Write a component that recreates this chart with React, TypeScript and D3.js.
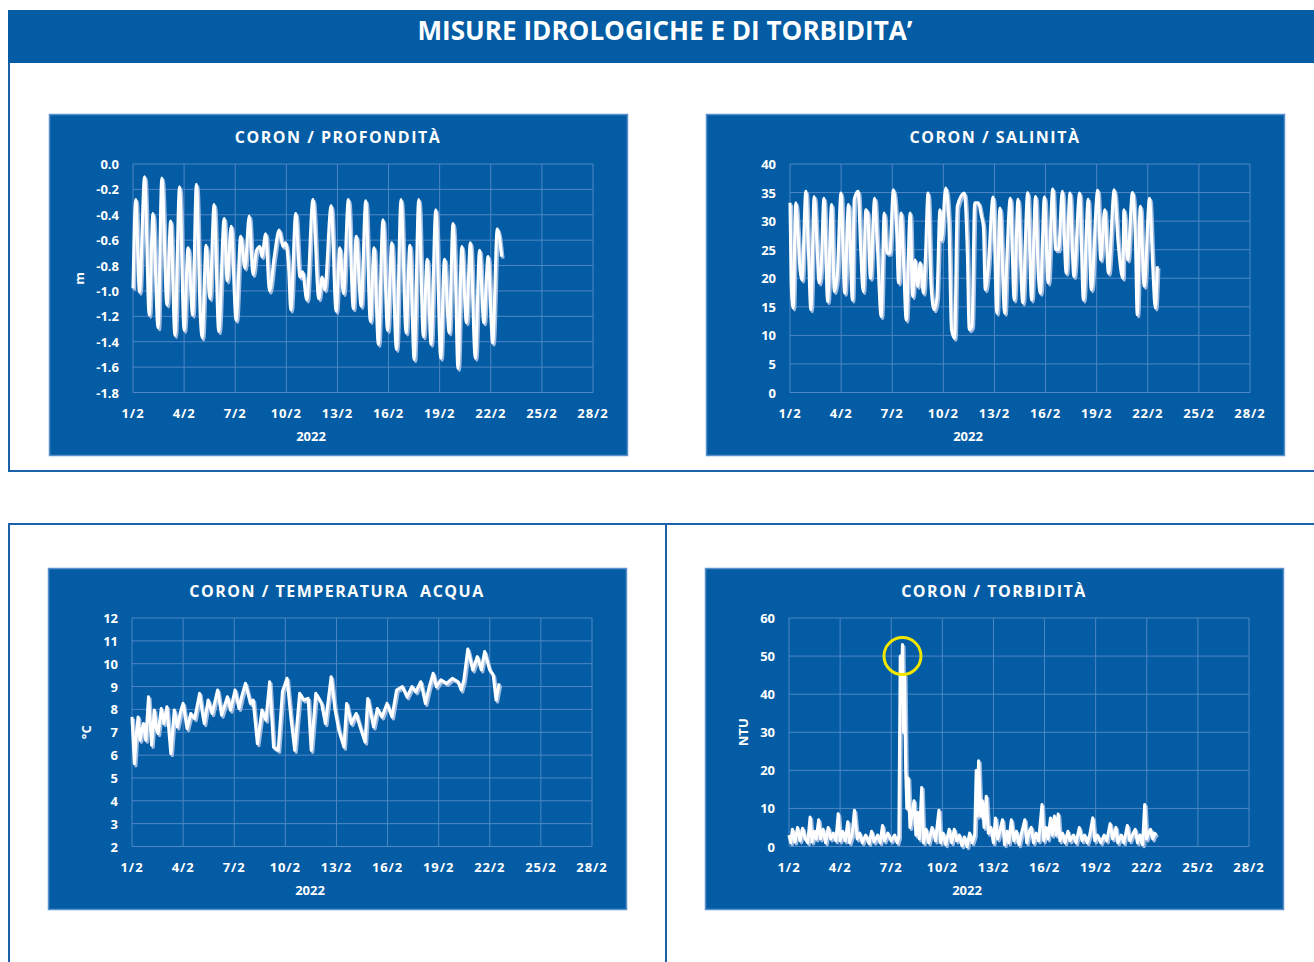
import { useEffect, useRef } from "react";
import * as d3 from "d3";

// giorni dal 1/2/2022
const xTickDays = [0, 3, 6, 9, 12, 15, 18, 21, 24, 27];
const xTickLabels = ["1/2", "4/2", "7/2", "10/2", "13/2", "16/2", "19/2", "22/2", "25/2", "28/2"];

const depthTicks = [0, -0.2, -0.4, -0.6, -0.8, -1.0, -1.2, -1.4, -1.6, -1.8];
const salinityTicks = [0, 5, 10, 15, 20, 25, 30, 35, 40];
const temperatureTicks = [2, 3, 4, 5, 6, 7, 8, 9, 10, 11, 12];
const turbidityTicks = [0, 10, 20, 30, 40, 50, 60];

// [giorno, valore]
const depth: [number, number][] = [
  [0, -0.98], [0.16, -0.28], [0.38, -1.01], [0.68, -0.1], [0.95, -1.19], [1.17, -0.39],
  [1.47, -1.29], [1.69, -0.11], [1.99, -1.11], [2.21, -0.45], [2.46, -1.35], [2.73, -0.18],
  [3.0, -1.31], [3.23, -0.66], [3.5, -1.19], [3.72, -0.16], [3.95, -1.2], [4.06, -1.37],
  [4.29, -0.64], [4.51, -1.06], [4.76, -0.32], [5.03, -1.32], [5.35, -0.43], [5.53, -0.92],
  [5.76, -0.49], [6.05, -1.23], [6.32, -0.57], [6.57, -0.82], [6.82, -0.41], [7.04, -0.87],
  [7.25, -0.68], [7.45, -0.65], [7.56, -0.73], [7.79, -0.55], [8.01, -1.0], [8.3, -0.72],
  [8.58, -0.52], [8.8, -0.65], [8.95, -0.62], [9.14, -0.83], [9.26, -1.15], [9.55, -0.39],
  [9.8, -0.89], [9.95, -0.85], [10.2, -1.07], [10.56, -0.28], [10.9, -1.06], [11.1, -0.89],
  [11.25, -0.99], [11.63, -0.33], [11.92, -1.16], [12.14, -0.66], [12.35, -1.02], [12.64, -0.28],
  [12.93, -1.14], [13.1, -0.57], [13.39, -1.12], [13.66, -0.29], [13.93, -1.24], [14.15, -0.66],
  [14.4, -1.42], [14.67, -0.44], [14.94, -1.31], [15.19, -0.62], [15.46, -1.46], [15.73, -0.28],
  [16.03, -1.33], [16.25, -0.64], [16.5, -1.54], [16.77, -0.28], [17.04, -1.36], [17.27, -0.75],
  [17.49, -1.42], [17.77, -0.36], [18.06, -1.53], [18.28, -0.75], [18.56, -1.33], [18.78, -0.47],
  [18.92, -0.87], [19.07, -1.61], [19.3, -0.65], [19.57, -1.25], [19.8, -0.62], [20.09, -1.53],
  [20.34, -0.68], [20.59, -1.25], [20.84, -0.73], [21.11, -1.41], [21.38, -0.51], [21.63, -0.73],
];

const salinity: [number, number][] = [
  [0, 33.2], [0.07, 19.2], [0.18, 14.8], [0.34, 33.2], [0.47, 27.9], [0.59, 21.5], [0.7, 19.7],
  [0.93, 35.2], [1.08, 25], [1.22, 14.5], [1.42, 34.3], [1.58, 26.2], [1.7, 19.2], [1.83, 22.1],
  [1.99, 34], [2.21, 15.9], [2.44, 32.9], [2.6, 17.7], [2.78, 20.9], [2.99, 34.9], [3.21, 17.4],
  [3.43, 32.9], [3.66, 16.2], [3.77, 33.8], [4.0, 35.2], [4.15, 25], [4.29, 17.7], [4.45, 32],
  [4.56, 31.4], [4.72, 20], [4.97, 34], [5.12, 26.2], [5.35, 13.3], [5.53, 31.4], [5.69, 24.4],
  [5.85, 24.4], [6.07, 35.5], [6.25, 29.1], [6.37, 19.2], [6.52, 31.4], [6.66, 23.2], [6.82, 12.7],
  [7.05, 31.4], [7.2, 16.8], [7.34, 23.2], [7.49, 18.6], [7.65, 22.7], [7.83, 17.4], [7.95, 23.8],
  [8.1, 34.9], [8.28, 18.6], [8.46, 14.5], [8.62, 16.5], [8.8, 32], [8.89, 26.7], [9.14, 35.8],
  [9.32, 30.2], [9.48, 11], [9.66, 9.5], [9.82, 32.6], [10.23, 34.9], [10.41, 24.4], [10.52, 11],
  [10.68, 11.6], [10.84, 33.2], [11.06, 33.2], [11.24, 30.8], [11.35, 29.1], [11.46, 18],
  [11.62, 21.5], [11.92, 34.2], [12.14, 13.9], [12.32, 32.3], [12.6, 13.9], [12.71, 22.1],
  [12.93, 34], [13.16, 16.2], [13.38, 33.8], [13.66, 15.7], [13.95, 35], [14.18, 16.2],
  [14.41, 34.3], [14.58, 20.3], [14.7, 17.4], [14.93, 34.2], [15.15, 19.2], [15.42, 35.6],
  [15.6, 25], [15.76, 25], [15.98, 35.2], [16.21, 20.9], [16.43, 34.9], [16.66, 20.3], [17.0, 34.9],
  [17.22, 16.2], [17.5, 33.8], [17.68, 18], [18.06, 35.4], [18.24, 23.2], [18.47, 32], [18.69, 20.9],
  [19.03, 35.5], [19.26, 26.2], [19.53, 20], [19.6, 32], [19.82, 23.2], [20.1, 35], [20.28, 26.2],
  [20.38, 13.6], [20.56, 32.6], [20.79, 18.6], [21.1, 34], [21.29, 22.1], [21.44, 14.8], [21.56, 22.1],
];

const temperature: [number, number][] = [
  [0, 7.67], [0.14, 5.62], [0.25, 6.9], [0.36, 7.67], [0.47, 6.65], [0.58, 7.1], [0.68, 7.38],
  [0.81, 6.65], [0.97, 8.55], [1.15, 6.43], [1.31, 7.97], [1.42, 7.2], [1.53, 6.94], [1.72, 8.04],
  [1.87, 7.38], [2.05, 8.11], [2.28, 6.06], [2.48, 7.97], [2.66, 7.23], [2.85, 7.9], [3.0, 8.26],
  [3.23, 7.16], [3.45, 7.82], [3.68, 7.6], [3.97, 8.7], [4.1, 8.0], [4.24, 7.38], [4.47, 8.41],
  [4.7, 7.82], [5.03, 8.85], [5.26, 7.75], [5.6, 8.55], [5.78, 7.97], [6.05, 8.85], [6.28, 8.04],
  [6.45, 8.6], [6.66, 9.14], [6.95, 8.26], [7.11, 8.41], [7.36, 6.5], [7.63, 7.97], [7.86, 7.53],
  [8.08, 9.21], [8.31, 6.35], [8.58, 6.21], [8.83, 8.77], [9.1, 9.36], [9.32, 7.67], [9.55, 6.21],
  [9.84, 8.7], [10.07, 8.41], [10.34, 8.48], [10.52, 6.21], [10.79, 8.7], [11.13, 8.26],
  [11.35, 7.38], [11.69, 9.43], [11.92, 7.97], [12.14, 7.09], [12.44, 6.35], [12.6, 8.26],
  [12.87, 7.38], [13.16, 7.82], [13.39, 7.23], [13.68, 6.57], [13.84, 8.48], [14.18, 7.23],
  [14.4, 8.04], [14.67, 7.67], [14.97, 8.26], [15.26, 7.67], [15.53, 8.85], [15.87, 9.0],
  [16.14, 8.55], [16.43, 9.0], [16.66, 8.77], [16.95, 9.21], [17.22, 8.26], [17.45, 9.0],
  [17.68, 9.58], [17.86, 9.0], [18.13, 9.29], [18.47, 9.14], [18.8, 9.36], [19.14, 9.21],
  [19.32, 8.85], [19.48, 9.29], [19.71, 10.64], [20.0, 9.73], [20.27, 10.31], [20.5, 9.73],
  [20.7, 10.53], [20.99, 9.73], [21.2, 9.51], [21.37, 8.41], [21.55, 9.14],
];

const turbidity: [number, number][] = [
  [0, 3], [0.1, 1], [0.2, 4.5], [0.35, 1.2], [0.5, 5], [0.65, 1.5], [0.8, 4.8], [0.95, 2], [1.1, 1],
  [1.24, 7.7], [1.35, 1.2], [1.5, 4], [1.6, 2], [1.74, 7], [1.85, 2], [2.0, 4.5], [2.15, 1], [2.3, 5],
  [2.45, 2], [2.6, 3.5], [2.75, 1.5], [2.89, 8.6], [3.0, 1.5], [3.15, 4], [3.3, 1.5], [3.45, 6.5],
  [3.55, 1], [3.7, 3], [3.84, 9.5], [4.0, 2], [4.15, 3.5], [4.3, 1], [4.5, 3], [4.7, 0.8], [4.85, 4],
  [5.0, 1.2], [5.2, 3], [5.35, 1], [5.49, 5.5], [5.6, 1.5], [5.8, 3.5], [6.0, 1.5], [6.2, 3], [6.35, 1],
  [6.45, 2.5], [6.53, 50], [6.58, 38], [6.66, 53], [6.72, 30], [6.78, 45], [6.85, 20], [6.92, 10],
  [7.0, 18], [7.1, 5], [7.2, 8], [7.34, 12], [7.45, 3], [7.55, 9], [7.65, 2], [7.79, 15.5], [7.9, 1],
  [8.05, 4.5], [8.2, 1], [8.4, 5], [8.6, 1.5], [8.8, 9.5], [8.9, 1], [9.05, 3.5], [9.2, 0.5], [9.4, 4.5],
  [9.55, 1], [9.7, 4.5], [9.85, 1.5], [10.0, 3], [10.15, 0.2], [10.3, 2.5], [10.45, 0], [10.6, 3.5],
  [10.75, 1], [10.9, 3], [10.99, 20], [11.05, 8], [11.13, 22.5], [11.25, 8], [11.35, 12], [11.45, 5],
  [11.58, 13.2], [11.7, 3.5], [11.85, 5], [12.0, 1], [12.12, 7.5], [12.25, 2], [12.4, 4.5], [12.53, 7],
  [12.65, 0.5], [12.8, 4], [12.9, 1], [13.05, 7], [13.2, 1.5], [13.35, 4], [13.5, 0.5], [13.65, 3.5],
  [13.84, 7], [13.95, 1], [14.1, 4], [14.22, 5], [14.35, 1], [14.5, 3.5], [14.65, 1.5], [14.85, 11],
  [14.95, 1.5], [15.1, 5], [15.2, 2], [15.35, 7.5], [15.45, 3], [15.58, 8], [15.68, 3], [15.8, 8.5],
  [15.9, 1.5], [16.05, 3.5], [16.2, 1], [16.37, 4], [16.5, 1.5], [16.7, 3], [16.85, 1], [17.04, 5],
  [17.2, 1.5], [17.35, 3], [17.5, 1], [17.65, 3], [17.83, 7.5], [17.95, 1.5], [18.1, 3], [18.3, 1],
  [18.5, 3], [18.65, 1.5], [18.85, 6], [19.0, 2], [19.19, 5], [19.3, 1], [19.5, 3], [19.65, 1],
  [19.86, 5.5], [20.0, 1.5], [20.15, 3], [20.32, 4.5], [20.45, 1], [20.6, 3], [20.75, 0.5], [20.88, 11],
  [20.98, 2], [21.1, 3.5], [21.22, 4.5], [21.35, 2], [21.45, 3.5], [21.56, 3],
];

// picco evidenziato nel grafico della torbidità
const turbidityPeak: [number, number] = [6.66, 50];

const BLUE = "#035ca4";
const GRID = "#4f87c4";
const FONT = "'Open Sans', 'Noto Sans', sans-serif";

interface PanelSpec {
  left: number;
  top: number;
  title: string;
  data: [number, number][];
  ticks: number[];
  fmt: (v: number) => string;
  yLabel?: string;
  smooth: boolean;
  highlight?: [number, number];
}

const panels: PanelSpec[] = [
  { left: 49, top: 114, title: "CORON / PROFONDITÀ", data: depth, ticks: depthTicks, fmt: (v) => v.toFixed(1), yLabel: "m", smooth: true },
  { left: 706, top: 114, title: "CORON / SALINITÀ", data: salinity, ticks: salinityTicks, fmt: (v) => String(v), smooth: true },
  { left: 48, top: 568, title: "CORON / TEMPERATURA  ACQUA", data: temperature, ticks: temperatureTicks, fmt: (v) => String(v), yLabel: "°C", smooth: false },
  { left: 705, top: 568, title: "CORON / TORBIDITÀ", data: turbidity, ticks: turbidityTicks, fmt: (v) => String(v), yLabel: "NTU", smooth: false, highlight: turbidityPeak },
];

export default function App() {
  const ref = useRef<SVGSVGElement>(null);

  useEffect(() => {
    const svg = d3.select(ref.current);
    svg.selectAll("*").remove();

    // intestazione
    svg.append("rect").attr("x", 8).attr("y", 10).attr("width", 1306).attr("height", 53).attr("fill", BLUE);
    svg
      .append("text")
      .attr("x", 665)
      .attr("y", 40)
      .attr("text-anchor", "middle")
      .attr("textLength", 495)
      .attr("lengthAdjust", "spacingAndGlyphs")
      .style("font-family", "'Liberation Sans Narrow', 'Open Sans', sans-serif")
      .style("font-weight", 700)
      .style("font-size", "27px")
      .style("fill", "#fff")
      .text("MISURE IDROLOGICHE E DI TORBIDITA’");

    // cornici
    const frame = svg.append("g").attr("stroke", "#1b62a8").attr("stroke-width", 2).attr("fill", "none");
    frame.append("path").attr("d", "M9,63 V471 H1314");
    frame.append("path").attr("d", "M9,962 V524 H1314");
    frame.append("path").attr("d", "M666,524 V962");

    const pw = 578;
    const ph = 341;
    const plotW = 460;
    const plotH = 228.5;

    panels.forEach((p) => {
      const g = svg.append("g").attr("transform", `translate(${p.left},${p.top})`);
      g.append("rect")
        .attr("x", 0.5)
        .attr("y", 0.5)
        .attr("width", pw)
        .attr("height", ph)
        .attr("fill", BLUE)
        .attr("stroke", "#5a90cc")
        .attr("stroke-width", 1.5);

      g.append("text")
        .attr("x", pw / 2)
        .attr("y", 29)
        .attr("text-anchor", "middle")
        .style("font-family", FONT)
        .style("font-weight", 700)
        .style("font-size", "16px")
        .style("letter-spacing", "1.5px")
        .style("white-space", "pre")
        .style("fill", "#fff")
        .text(p.title);

      const plot = g.append("g").attr("transform", `translate(84,50)`);
      const x = d3.scaleLinear().domain([0, 27]).range([0, plotW]);
      const yMin = d3.min(p.ticks)!;
      const yMax = d3.max(p.ticks)!;
      const y = d3.scaleLinear().domain([yMin, yMax]).range([plotH, 0]);

      // griglia
      plot
        .selectAll(".hg")
        .data(p.ticks)
        .enter()
        .append("line")
        .attr("x1", 0)
        .attr("x2", plotW)
        .attr("y1", (d) => y(d))
        .attr("y2", (d) => y(d))
        .attr("stroke", GRID)
        .attr("stroke-width", 1);
      plot
        .selectAll(".vg")
        .data(xTickDays)
        .enter()
        .append("line")
        .attr("x1", (d) => x(d))
        .attr("x2", (d) => x(d))
        .attr("y1", 0)
        .attr("y2", plotH)
        .attr("stroke", GRID)
        .attr("stroke-width", 1);

      // etichette assi
      plot
        .selectAll(".yl")
        .data(p.ticks)
        .enter()
        .append("text")
        .attr("x", -14)
        .attr("y", (d) => y(d) + 5)
        .attr("text-anchor", "end")
        .style("font-family", FONT)
        .style("font-weight", 700)
        .style("font-size", "13px")
        .style("fill", "#fff")
        .text((d) => p.fmt(d));
      plot
        .selectAll(".xl")
        .data(xTickDays)
        .enter()
        .append("text")
        .attr("x", (d) => x(d))
        .attr("y", plotH + 25)
        .attr("text-anchor", "middle")
        .style("font-family", FONT)
        .style("font-weight", 700)
        .style("font-size", "13px")
        .style("letter-spacing", "0.9px")
        .style("fill", "#fff")
        .text((d, i) => xTickLabels[i]);
      plot
        .append("text")
        .attr("x", 178)
        .attr("y", plotH + 48)
        .attr("text-anchor", "middle")
        .style("font-family", FONT)
        .style("font-weight", 700)
        .style("font-size", "13px")
        .style("fill", "#fff")
        .text("2022");
      if (p.yLabel) {
        plot
          .append("text")
          .attr("transform", `translate(${p.yLabel === "m" ? -49 : -41},${plotH / 2}) rotate(-90)`)
          .attr("text-anchor", "middle")
          .style("font-family", FONT)
          .style("font-weight", 700)
          .style("font-size", "13px")
          .style("fill", "#fff")
          .text(p.yLabel);
      }

      // serie con ombra
      const line = d3
        .line<[number, number]>()
        .x((d) => x(d[0]))
        .y((d) => y(d[1]))
        .curve(p.smooth ? d3.curveMonotoneX : d3.curveLinear);
      plot
        .append("path")
        .datum(p.data)
        .attr("d", line)
        .attr("transform", "translate(1.5,2)")
        .attr("fill", "none")
        .attr("stroke", "#9fbbe0")
        .attr("stroke-width", 3.2)
        .attr("stroke-linejoin", "round");
      plot
        .append("path")
        .datum(p.data)
        .attr("d", line)
        .attr("fill", "none")
        .attr("stroke", "#fff")
        .attr("stroke-width", 3.1)
        .attr("stroke-linejoin", "round");

      if (p.highlight) {
        plot
          .append("circle")
          .attr("cx", x(p.highlight[0]))
          .attr("cy", y(p.highlight[1]))
          .attr("r", 18.5)
          .attr("fill", "none")
          .attr("stroke", "#f2e600")
          .attr("stroke-width", 3);
      }
    });
  }, []);

  return (
    <svg
      ref={ref}
      width={1314}
      height={962}
      style={{ position: "absolute", left: 0, top: 0, display: "block", background: "#fff" }}
    />
  );
}
